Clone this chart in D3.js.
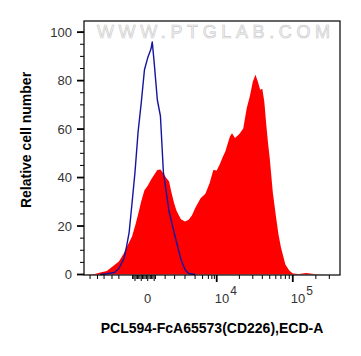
<!DOCTYPE html>
<html><head><meta charset="utf-8">
<script src="https://cdn.jsdelivr.net/npm/d3@7"></script>
<style>html,body{margin:0;padding:0;background:#fff;}svg{display:block;font-family:"Liberation Sans",Arial,sans-serif;}</style>
</head><body>
<script>
// ---- data (fluorescence value, relative count) ----
const redX = [-8000,-6000,-5000,-4000,-3000,-2500,-2000,-1750,-1500,-1250,-1000,-750,-500,-250,0,250,500,750,1000,1250,1500,1750,2000,2250,2500,2750,3000,3500,4000,4500,5000,6000,7000,8000,9000,10000,11000,12000,13000,15000,16000,17500,20000,22500,25000,27500,30000,32500,35000,37500,40000,42500,45000,47500,50000,55000,60000,65000,70000,80000,90000,100000,120000,150000,200000,300000];
const redY = [0,0.2,0.8,1.4,3.9,5.4,8.7,11,13.3,15.7,19.9,24.8,30.2,34.8,36.6,39.1,41.2,43.1,43.3,41.7,39.8,38.5,33.5,29.4,26.3,24.4,22.8,21.9,22.6,24.4,27.3,31.5,33.3,37.7,43.1,42.9,45.5,48.4,50.7,56.9,58.3,56.3,58,60.2,68.7,73.7,79.5,82.4,79.5,76.2,76.6,71.2,62,54.2,48,33.5,24.4,16.6,11.2,4.1,1.7,0.4,0.2,0.6,0.1,0];
const blueX = [-5000,-4000,-3000,-2500,-2000,-1750,-1500,-1250,-1000,-750,-500,-250,0,250,350,500,750,1000,1250,1500,1750,2000,2500,3000,3500,4000,5000];
const blueY = [0,0.3,0.8,2.5,6.4,11.2,17.4,29.4,42.2,58.8,70.8,84.5,89.4,93,96,87.4,72,65.4,42.2,34,26.1,21.5,13.3,6.2,2.1,0.4,0];
const yTicks = [0,20,40,60,80,100];
const yMinor = [5,10,15,25,30,35,45,50,55,65,70,75,85,90,95,100];
const xMajor = [10000,100000];
const xMajorLabels = [{base:"10",exp:"4",v:10000},{base:"10",exp:"5",v:100000}];
const xMinor = [-7000,-5500,-4400,-3300,-2500,1400,2300,3500,5000,6400,7700,8600,9300,20000,30000,40000,50000,60000,70000,80000,90000,200000,300000];
const xZeroCluster = d3.range(-1200,700,100);
const xTitle = "PCL594-FcA65573(CD226),ECD-A";
const yTitle = "Relative cell number";
const watermark = "WWW.PTGLAB.COM";

const W=361,H=356;
const L=84,R=340,T=21,B=275;
const C=2554;
const xT = d3.scaleLinear().domain([Math.asinh(-8480/C), Math.asinh(413500/C)]).range([L,R]);
const x = v => xT(Math.asinh(v/C));
const y = d3.scaleLinear().domain([0,104.6]).range([274.5,T]);

const svg = d3.select("body").append("svg").attr("width",W).attr("height",H);

// watermark
svg.append("text").attr("x",97).attr("y",38).attr("textLength",233).attr("lengthAdjust","spacing")
  .attr("font-size",18).attr("fill","#f4f4f4").attr("stroke","#c8c8c8").attr("stroke-width",0.6)
  .text(watermark);

const redData = redX.map((v,i)=>[v,redY[i]]);
const blueData = blueX.map((v,i)=>[v,blueY[i]]);

svg.append("path").datum(redData)
  .attr("d", d3.area().x(d=>x(d[0])).y0(y(0)).y1(d=>y(d[1])))
  .attr("fill","#ff0000");

svg.append("path").datum(blueData)
  .attr("d", d3.line().x(d=>x(d[0])).y(d=>y(d[1])))
  .attr("fill","none").attr("stroke","#1414a0").attr("stroke-width",1.4).attr("stroke-linejoin","round");

// frame
svg.append("rect").attr("x",L).attr("y",T).attr("width",R-L).attr("height",B-T)
  .attr("fill","none").attr("stroke","#000").attr("stroke-width",1.2);

// y axis
const yAxis = svg.append("g");
yAxis.selectAll("line.maj").data(yTicks).join("line")
  .attr("x1",L-7).attr("x2",L).attr("y1",d=>y(d)).attr("y2",d=>y(d)).attr("stroke","#000").attr("stroke-width",1.8);
yAxis.selectAll("line.min").data(yMinor).join("line")
  .attr("x1",L-4).attr("x2",L).attr("y1",d=>y(d)).attr("y2",d=>y(d)).attr("stroke","#000").attr("stroke-width",1);
yAxis.selectAll("text").data(yTicks).join("text")
  .attr("x",L-12).attr("y",d=>y(d)+4.5).attr("text-anchor","end").attr("font-size",13).attr("fill","#333")
  .text(d=>d);

// x axis
const xAxis = svg.append("g");
xAxis.selectAll("line.min").data(xMinor).join("line")
  .attr("x1",d=>x(d)).attr("x2",d=>x(d)).attr("y1",B).attr("y2",B+4).attr("stroke","#000").attr("stroke-width",1);
xAxis.selectAll("line.z").data(xZeroCluster).join("line")
  .attr("x1",d=>x(d)).attr("x2",d=>x(d)).attr("y1",B).attr("y2",d=>B+(d%500===0?6:4)).attr("stroke","#000").attr("stroke-width",1);
xAxis.selectAll("line.maj").data(xMajor).join("line")
  .attr("x1",d=>x(d)).attr("x2",d=>x(d)).attr("y1",B).attr("y2",B+7).attr("stroke","#000").attr("stroke-width",1.8);
xAxis.append("text").attr("x",x(0)).attr("y",303).attr("text-anchor","middle").attr("font-size",13).attr("fill","#333").text("0");
const lab = xAxis.selectAll("text.p").data(xMajorLabels).join("text")
  .attr("x",d=>x(d.v)-2).attr("y",303).attr("font-size",13).attr("fill","#333");
lab.append("tspan").text(d=>d.base);
lab.append("tspan").attr("dy",-8).attr("dx",1).attr("font-size",12).text(d=>d.exp);

// titles
svg.append("text").attr("x",212).attr("y",333).attr("text-anchor","middle").attr("font-size",14).attr("font-weight","bold").text(xTitle);
svg.append("text").attr("transform","translate(31,140) rotate(-90)").attr("text-anchor","middle").attr("font-size",14).attr("font-weight","bold").text(yTitle);
</script>
</body></html>
